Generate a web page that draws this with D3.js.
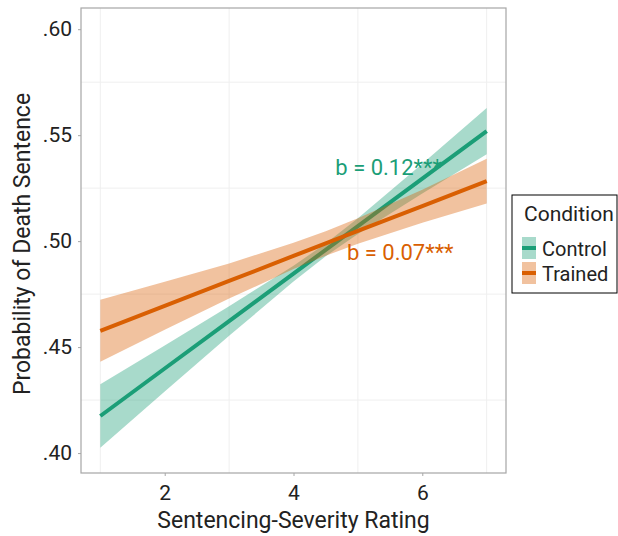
<!DOCTYPE html>
<html>
<head>
<meta charset="utf-8">
<script src="https://cdn.jsdelivr.net/npm/d3@7"></script>
<style>
  body { margin: 0; background: #fff; }
  text { font-family: Roboto, "Liberation Sans", sans-serif; fill: #222; }
</style>
</head>
<body>
<svg width="618" height="536"></svg>
<script>
const ratings = [1, 2, 3, 4, 4.5, 5, 6, 7];

const conditions = ["Control", "Trained"];
const colors = ["#1b9e77", "#d95f02"];

const controlFit   = [0.4175, 0.4399, 0.4623, 0.4847, 0.4959, 0.5071, 0.5295, 0.5519];
const controlLower = [0.4025, 0.4290, 0.4553, 0.4810, 0.4929, 0.5034, 0.5225, 0.5410];
const controlUpper = [0.4325, 0.4508, 0.4693, 0.4884, 0.4989, 0.5108, 0.5365, 0.5628];

const trainedFit   = [0.4577, 0.4695, 0.4812, 0.4930, 0.4989, 0.5048, 0.5165, 0.5283];
const trainedLower = [0.4431, 0.4582, 0.4729, 0.4868, 0.4931, 0.4988, 0.5087, 0.5177];
const trainedUpper = [0.4723, 0.4808, 0.4895, 0.4992, 0.5047, 0.5108, 0.5243, 0.5389];

const xTicks = [2, 4, 6];
const yTicks = [0.40, 0.45, 0.50, 0.55, 0.60];
const xMinor = [1, 3, 5, 7];
const yMinor = [0.425, 0.475, 0.525, 0.575];

const slopeLabels = ["b = 0.12***", "b = 0.07***"];
const labelPos = [[4.65, 0.5310], [4.83, 0.4912]];

const series = [
  {name: conditions[0], color: colors[0], fit: controlFit, lower: controlLower, upper: controlUpper},
  {name: conditions[1], color: colors[1], fit: trainedFit, lower: trainedLower, upper: trainedUpper}
];

const svg = d3.select("svg");
const panel = {left: 81, right: 506, top: 8, bottom: 473};

const x = d3.scaleLinear().domain([0.7, 7.3]).range([panel.left, panel.right]);
const y = d3.scaleLinear().domain([0.3906, 0.61]).range([panel.bottom, panel.top]);

// grid
const grid = svg.append("g").attr("stroke", "#efefef").attr("stroke-width", 1);
grid.selectAll(".gx").data(xMinor).join("line")
  .attr("x1", d => x(d)).attr("x2", d => x(d))
  .attr("y1", panel.top).attr("y2", panel.bottom);
grid.selectAll(".gy").data(yMinor).join("line")
  .attr("x1", panel.left).attr("x2", panel.right)
  .attr("y1", d => y(d)).attr("y2", d => y(d));

// bands + lines, one group at a time
const area = d3.area()
  .x((d, i) => x(ratings[i]))
  .y0(d => y(d[0]))
  .y1(d => y(d[1]));
const line = d3.line()
  .x((d, i) => x(ratings[i]))
  .y(d => y(d));

series.forEach(s => {
  svg.append("path")
    .datum(s.lower.map((lo, i) => [lo, s.upper[i]]))
    .attr("d", area)
    .attr("fill", s.color)
    .attr("fill-opacity", 0.38);
  svg.append("path")
    .datum(s.fit)
    .attr("d", line)
    .attr("fill", "none")
    .attr("stroke", s.color)
    .attr("stroke-width", 4);
});

// slope annotations
svg.selectAll(".slope").data(slopeLabels).join("text")
  .attr("x", (d, i) => x(labelPos[i][0]))
  .attr("y", (d, i) => y(labelPos[i][1]))
  .attr("font-size", 22)
  .style("fill", (d, i) => colors[i])
  .text(d => d);

// panel border
svg.append("rect")
  .attr("x", panel.left).attr("y", panel.top)
  .attr("width", panel.right - panel.left).attr("height", panel.bottom - panel.top)
  .attr("fill", "none").attr("stroke", "#a6a6a6").attr("stroke-width", 1.2);

// axes
const fmt = d => d3.format(".2f")(d).replace(/^0/, "");
const xAxis = svg.append("g")
  .attr("transform", `translate(0,${panel.bottom})`)
  .call(d3.axisBottom(x).tickValues(xTicks).tickFormat(d3.format("d")).tickSize(3).tickPadding(9));
const yAxis = svg.append("g")
  .attr("transform", `translate(${panel.left},0)`)
  .call(d3.axisLeft(y).tickValues(yTicks).tickFormat(fmt).tickSize(3).tickPadding(6));
[xAxis, yAxis].forEach(a => {
  a.select(".domain").remove();
  a.selectAll(".tick line").attr("stroke", "#a6a6a6");
  a.selectAll(".tick text").attr("font-size", 21).style("fill", "#222")
    .attr("font-family", "Roboto, 'Liberation Sans', sans-serif");
});

svg.append("text")
  .attr("x", (panel.left + panel.right) / 2).attr("y", 528)
  .attr("text-anchor", "middle").attr("font-size", 23)
  .text("Sentencing-Severity Rating");
svg.append("text")
  .attr("transform", "translate(30,244) rotate(-90)")
  .attr("text-anchor", "middle").attr("font-size", 23)
  .text("Probability of Death Sentence");

// legend
const legend = svg.append("g").attr("transform", "translate(512,195)");
legend.append("rect")
  .attr("width", 105).attr("height", 98)
  .attr("fill", "#fff").attr("stroke", "#000").attr("stroke-width", 1);
legend.append("text").attr("x", 12).attr("y", 26).attr("font-size", 21).text("Condition");
const keys = legend.selectAll(".key").data(series).join("g")
  .attr("transform", (d, i) => `translate(10,${42 + i * 25})`);
keys.append("rect")
  .attr("width", 14).attr("height", 22)
  .attr("fill", d => d.color).attr("fill-opacity", 0.38);
keys.append("line")
  .attr("x1", 0).attr("x2", 14).attr("y1", 11).attr("y2", 11)
  .attr("stroke", d => d.color).attr("stroke-width", 4);
keys.append("text")
  .attr("x", 20).attr("y", 19).attr("font-size", 20)
  .text(d => d.name);
</script>
</body>
</html>
